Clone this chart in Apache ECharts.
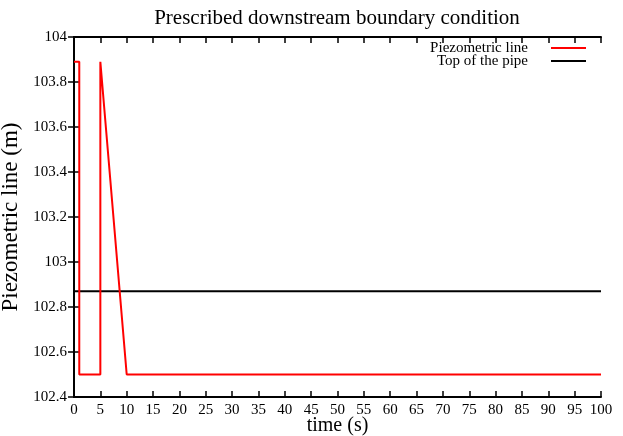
<!DOCTYPE html>
<html>
<head>
<meta charset="utf-8">
<script src="https://cdn.jsdelivr.net/npm/echarts@6/dist/echarts.min.js"></script>
<style>html,body{margin:0;padding:0;background:#fff}#c{width:623px;height:436px}</style>
</head>
<body>
<div id="c"></div>
<script>
const titleText = 'Prescribed downstream boundary condition';
const xName = 'time (s)';
const yName = 'Piezometric line (m)';
const seriesNames = ['Piezometric line', 'Top of the pipe'];
const pieTime = [0, 1, 1, 5, 5, 10, 100];
const pieHead = [103.89, 103.89, 102.5, 102.5, 103.89, 102.5, 102.5];
const pipeTime = [0, 100];
const pipeTop = [102.87, 102.87];
const xMin = 0, xMax = 100, xStep = 5;
const yMin = 102.4, yMax = 104, yStep = 0.2;

const font = 'Liberation Serif';
const chart = echarts.init(document.getElementById('c'));
const axisCommon = {
  axisLine: {show: true, lineStyle: {color: '#000', width: 2}},
  axisTick: {show: true, inside: true, length: 6, lineStyle: {color: '#000', width: 1.5}},
  splitLine: {show: false}
};
const yFmt = v => String(Math.round(v * 10) / 10);
const legendCommon = {align: 'right', orient: 'vertical', padding: 0,
  icon: 'rect', itemWidth: 35, itemHeight: 2,
  textStyle: {fontFamily: font, fontSize: 15, color: '#000', padding: [0, 18, 0, 0]}};
chart.setOption({
  animation: false,
  backgroundColor: '#fff',
  title: {text: titleText, left: 337, textAlign: 'center', top: 8, padding: 0,
    textStyle: {fontFamily: font, fontSize: 21, fontWeight: 'normal', color: '#000'}},
  grid: {left: 74, right: 22, top: 37, bottom: 39, containLabel: false, outerBoundsMode: 'none'},
  legend: [
    Object.assign({data: [seriesNames[0]], right: 37, top: 40.5}, legendCommon),
    Object.assign({data: [seriesNames[1]], right: 37, top: 53.5}, legendCommon)
  ],
  xAxis: [
    Object.assign({type: 'value', min: xMin, max: xMax, interval: xStep, position: 'bottom',
      name: xName, nameLocation: 'middle', nameGap: 19, nameMoveOverlap: false,
      nameTextStyle: {fontFamily: font, fontSize: 20, color: '#000', verticalAlign: 'top'},
      axisLabel: {fontFamily: font, fontSize: 15, color: '#000', margin: 6}}, axisCommon),
    Object.assign({type: 'value', min: xMin, max: xMax, interval: xStep, position: 'top',
      axisLabel: {show: false}}, axisCommon)
  ],
  yAxis: [
    Object.assign({type: 'value', min: yMin, max: yMax, interval: yStep, position: 'left',
      name: yName, nameLocation: 'middle', nameGap: 52, nameMoveOverlap: false,
      nameTextStyle: {fontFamily: font, fontSize: 23, color: '#000', verticalAlign: 'bottom'},
      axisLabel: {fontFamily: font, fontSize: 15, color: '#000', margin: 7, formatter: yFmt}}, axisCommon),
    Object.assign({type: 'value', min: yMin, max: yMax, interval: yStep, position: 'right',
      axisLabel: {show: false}}, axisCommon)
  ],
  series: [
    {name: seriesNames[0], type: 'line', data: pieTime.map((t, i) => [t, pieHead[i]]),
     showSymbol: false, symbol: 'none', lineStyle: {color: '#ff0000', width: 2}, itemStyle: {color: '#ff0000'}, z: 3},
    {name: seriesNames[1], type: 'line', data: pipeTime.map((t, i) => [t, pipeTop[i]]),
     showSymbol: false, symbol: 'none', lineStyle: {color: '#000', width: 2}, itemStyle: {color: '#000'}, z: 2}
  ]
});
</script>
</body>
</html>
